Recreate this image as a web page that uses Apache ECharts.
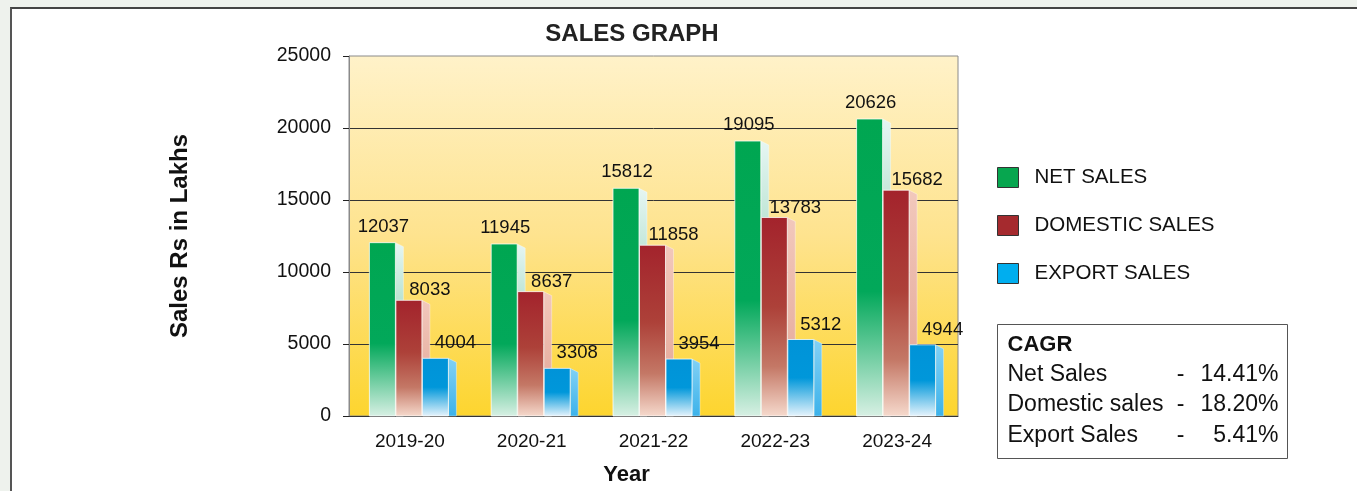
<!DOCTYPE html>
<html>
<head>
<meta charset="utf-8">
<script src="https://cdn.jsdelivr.net/npm/echarts@6/dist/echarts.min.js"></script>
<style>
    html, body { margin: 0; padding: 0; background: #eef2ed; }
    #panel { position: absolute; left: 10px; top: 7px; right: 0; bottom: 0; background: #fff; border-left: 2px solid #555; border-top: 2px solid #444; }
    #main { position: absolute; left: 0; top: 0; width: 1357px; height: 491px; }
</style>
</head>
<body>
<div id="panel"></div>
<div id="main"></div>
<script>
    // values
    var years = ['2019-20', '2020-21', '2021-22', '2022-23', '2023-24'];
    var netSales = [12037, 11945, 15812, 19095, 20626];
    var domesticSales = [8033, 8637, 11858, 13783, 15682];
    var exportSales = [4004, 3308, 3954, 5312, 4944];
    var seriesNames = ['NET SALES', 'DOMESTIC SALES', 'EXPORT SALES'];
    var cagrNames = ['Net Sales', 'Domestic sales', 'Export Sales'];
    var cagrValues = ['14.41%', '18.20%', '5.41%'];

    var FONT = '"Liberation Sans", Arial, sans-serif';
    var grad = function (stops) {
        return new echarts.graphic.LinearGradient(0, 0, 0, 1, stops.map(function (s) {
            return {offset: s[0], color: s[1]};
        }));
    };

    var looks = [
        {
            color: '#07a64f', dx: -27.5, labelDx: 1, labelDy: 16,
            front: [[0, '#00a651'], [0.58, '#02a85a'], [1, '#d8f0e4']],
            side: [[0, '#e6f6f3'], [0.5, '#a4dac2'], [1, '#72c49c']]
        },
        {
            color: '#a52a2e', dx: -1, labelDx: 21, labelDy: 10,
            front: [[0, '#a3232c'], [0.45, '#ad4139'], [0.75, '#c47866'], [1, '#f6dacd']],
            side: [[0, '#f2c8bc'], [1, '#e1a393']]
        },
        {
            color: '#00aeef', dx: 25.5, labelDx: 20, labelDy: 15,
            front: [[0, '#0093d8'], [0.5, '#0097da'], [1, '#e8f4fc']],
            side: [[0, '#82d1f5'], [1, '#3cb2ea']]
        }
    ];

    function barRenderer(look) {
        var w = 26, depth = 8, slant = 4;
        return function (params, api) {
            var base = api.coord([api.value(0), 0]);
            var top = api.coord([api.value(0), api.value(1)]);
            var x = base[0] + look.dx - w / 2;
            var yt = top[1], yb = base[1];
            return {
                type: 'group',
                children: [
                    {
                        type: 'polygon',
                        shape: {points: [[x + w, yt], [x + w + depth, yt + slant], [x + w + depth, yb], [x + w, yb]]},
                        style: {fill: grad(look.side), stroke: 'rgba(255,255,255,0.6)', lineWidth: 0.6}
                    },
                    {
                        type: 'rect',
                        shape: {x: x, y: yt, width: w, height: yb - yt},
                        style: {fill: grad(look.front), stroke: 'rgba(255,255,255,0.75)', lineWidth: 1}
                    },
                    {
                        type: 'text',
                        z2: 20,
                        style: {
                            text: String(api.value(1)),
                            x: x + w / 2 + look.labelDx,
                            y: yt - look.labelDy,
                            align: 'center',
                            verticalAlign: 'middle',
                            font: '18.5px ' + FONT,
                            fill: '#111'
                        }
                    }
                ]
            };
        };
    }

    var dataSets = [netSales, domesticSales, exportSales];
    var series = dataSets.map(function (vals, i) {
        return {
            type: 'custom',
            name: seriesNames[i],
            itemStyle: {color: looks[i].color},
            renderItem: barRenderer(looks[i]),
            encode: {x: 0, y: 1},
            data: vals.map(function (v, j) { return [j, v]; })
        };
    });

    // CAGR box
    var cagrChildren = [
        {type: 'rect', shape: {x: 0, y: 0, width: 290, height: 134}, style: {fill: '#fff', stroke: '#555', lineWidth: 1}},
        {type: 'text', style: {text: 'CAGR', x: 10, y: 20, verticalAlign: 'middle', font: 'bold 22px ' + FONT, fill: '#111'}}
    ];
    cagrNames.forEach(function (n, i) {
        var y = 50 + i * 30.5;
        cagrChildren.push({type: 'text', style: {text: n, x: 10, y: y, verticalAlign: 'middle', font: '23px ' + FONT, fill: '#111'}});
        cagrChildren.push({type: 'text', style: {text: '-', x: 183, y: y, align: 'center', verticalAlign: 'middle', font: '23px ' + FONT, fill: '#111'}});
        cagrChildren.push({type: 'text', style: {text: cagrValues[i], x: 281, y: y, align: 'right', verticalAlign: 'middle', font: '23px ' + FONT, fill: '#111'}});
    });

    var chart = echarts.init(document.getElementById('main'), null, {renderer: 'canvas'});
    chart.setOption({
        backgroundColor: 'transparent',
        animation: false,
        title: {
            text: 'SALES GRAPH',
            left: 627, top: 17,
            textAlign: 'center',
            textStyle: {fontFamily: FONT, fontSize: 24, fontWeight: 'bold', color: '#222'}
        },
        legend: {
            orient: 'vertical',
            left: 997, top: 167,
            padding: 0,
            itemWidth: 21, itemHeight: 20, itemGap: 27,
            selectedMode: false,
            textStyle: {fontFamily: FONT, fontSize: 20.5, color: '#111', padding: [0, 0, 0, 11]},
            data: seriesNames.map(function (n, i) {
                return {name: n, icon: 'rect', itemStyle: {color: looks[i].color, borderColor: '#333', borderWidth: 1}};
            })
        },
        grid: {
            left: 349, right: 399, top: 56, bottom: 73,
            show: true,
            backgroundColor: grad([[0, '#fff2c9'], [0.5, '#fee38e'], [1, '#fdd52e']]),
            borderColor: '#8a8a8a', borderWidth: 1
        },
        xAxis: {
            type: 'category',
            data: years,
            name: 'Year',
            nameLocation: 'middle',
            nameGap: 48,
            nameTextStyle: {fontFamily: FONT, fontSize: 22, fontWeight: 'bold', color: '#111', padding: [0, 54, 0, 0]},
            axisLine: {lineStyle: {color: '#333'}},
            axisTick: {length: 8, lineStyle: {color: '#555'}},
            axisLabel: {fontFamily: FONT, fontSize: 19, color: '#111', margin: 16}
        },
        yAxis: {
            type: 'value',
            min: 0, max: 25000, interval: 5000,
            name: 'Sales Rs in Lakhs',
            nameLocation: 'middle',
            nameGap: 157,
            nameTextStyle: {fontFamily: FONT, fontSize: 24, fontWeight: 'bold', color: '#111'},
            axisLine: {show: true, lineStyle: {color: '#8a8a8a'}},
            axisTick: {show: true, length: 6, lineStyle: {color: '#222'}},
            axisLabel: {fontFamily: FONT, fontSize: 19.5, color: '#111', margin: 18, formatter: function (v) { return String(v); }},
            splitLine: {show: true, showMaxLine: false, lineStyle: {color: '#333', width: 1}}
        },
        graphic: [
            {type: 'group', left: 997, top: 324, children: cagrChildren}
        ],
        series: series
    });
</script>
</body>
</html>
